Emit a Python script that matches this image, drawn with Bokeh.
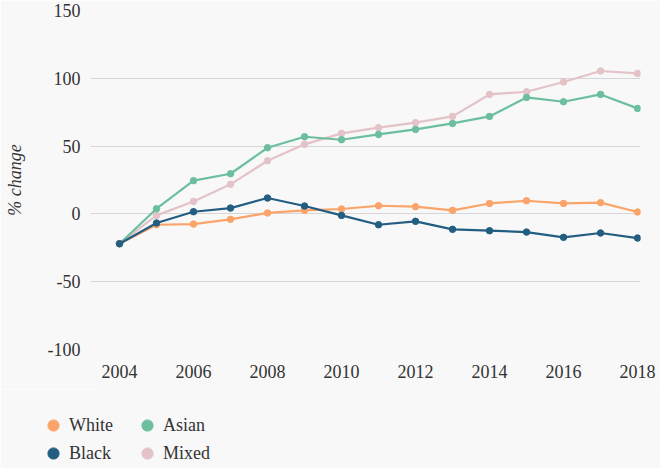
from bokeh.plotting import figure
from bokeh.models import Range1d, FixedTicker, Legend, LegendItem
from bokeh.layouts import column
from bokeh.embed import file_html
from bokeh.resources import INLINE

years = list(range(2004, 2019))
white = [-22, -8, -7.5, -4, 0.7, 2.6, 3.6, 6, 5.3, 2.6, 7.7, 9.7, 7.7, 8.3, 1.4]
black = [-22, -6.7, 1.6, 4.3, 11.7, 5.8, -1.1, -8, -5.5, -11.4, -12.4, -13.4, -17.3, -14.1, -17.8]
asian = [-22, 3.8, 24.5, 29.6, 48.8, 56.9, 54.7, 58.6, 62.3, 66.7, 71.9, 85.9, 82.7, 88.1, 77.8]
mixed = [-22, -1.1, 9.2, 21.8, 39.2, 51.3, 59.4, 63.6, 67.3, 71.9, 88.1, 90.1, 97.3, 105.4, 103.6]
x_ticks = [2004, 2006, 2008, 2010, 2012, 2014, 2016, 2018]
y_ticks = [-100, -50, 0, 50, 100, 150]

legend_order = ["White", "Black", "Asian", "Mixed"]
colors = {"White": "#fba46a", "Black": "#235d82", "Asian": "#6cbf9e", "Mixed": "#e3c3c7"}
data = {"White": white, "Black": black, "Asian": asian, "Mixed": mixed}

FONT = "Liberation Serif"
BG = "#f8f8f8"
TXT = "#333333"

p = figure(frame_width=550, frame_height=339, output_backend="svg", toolbar_location=None,
           x_range=Range1d(2003.216, 2018.08), y_range=Range1d(-100, 150),
           background_fill_color=BG, border_fill_color=BG,
           min_border_left=90, min_border_right=20, min_border_top=10, min_border_bottom=40)
p.outline_line_color = None

for ax in (p.xaxis[0], p.yaxis[0]):
    ax.axis_line_color = None
    ax.major_tick_line_color = None
    ax.minor_tick_line_color = None
    ax.major_tick_in = 0
    ax.major_tick_out = 0
    ax.major_label_text_font = FONT
    ax.major_label_text_font_size = "18px"
    ax.major_label_text_color = TXT
p.xaxis.ticker = FixedTicker(ticks=x_ticks)
p.yaxis.ticker = FixedTicker(ticks=y_ticks)
p.yaxis.major_label_overrides = {t: str(t) for t in y_ticks}
p.xaxis.major_label_standoff = 15
p.yaxis.major_label_standoff = 10
p.yaxis.axis_label = "% change"
p.yaxis.axis_label_text_font = FONT
p.yaxis.axis_label_text_font_style = "italic"
p.yaxis.axis_label_text_font_size = "18px"
p.yaxis.axis_label_text_color = TXT
p.yaxis.axis_label_standoff = 20

p.xgrid.grid_line_color = None
p.ygrid.grid_line_color = "#d6d6d6"
p.ygrid.grid_line_width = 1

for n in ["Mixed", "Asian", "White", "Black"]:
    p.line(years, data[n], line_color=colors[n], line_width=2.2)
    p.scatter(years, data[n], size=6.5, fill_color=colors[n], line_color=colors[n])

# legend strip below the chart
lf = figure(frame_width=660, frame_height=79, output_backend="svg", toolbar_location=None,
            x_range=Range1d(0, 1), y_range=Range1d(0, 1),
            x_axis_location=None, y_axis_location=None,
            background_fill_color=BG, border_fill_color=BG, min_border=0)
lf.outline_line_color = None
lf.xgrid.grid_line_color = None
lf.ygrid.grid_line_color = None
legend_items = []
for n in legend_order:
    r = lf.scatter(x=[-5], y=[-5], size=12, fill_color=colors[n], line_color=colors[n])
    legend_items.append(LegendItem(label=n, renderers=[r]))

legend = Legend(items=legend_items, orientation="vertical", ncols=2)
legend.label_text_font = FONT
legend.label_text_font_size = "18px"
legend.label_text_color = TXT
legend.background_fill_alpha = 0
legend.border_line_color = None
legend.glyph_width = 28
legend.glyph_height = 28
legend.label_standoff = 2
legend.label_width = 64
legend.label_height = 20
legend.spacing = -1
legend.margin = 0
legend.padding = 0
legend.location = (39, 1)
lf.add_layout(legend, "center")

layout = column(p, lf, spacing=0)
open("out.html", "w").write(file_html(layout, INLINE))
